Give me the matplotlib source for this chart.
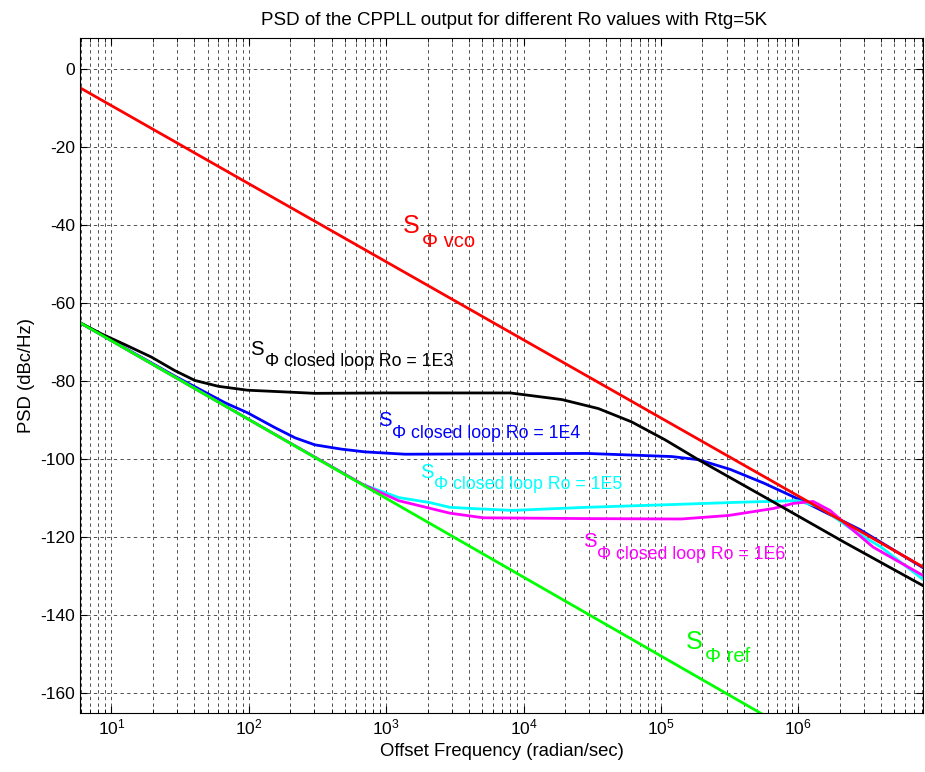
import numpy as np
import matplotlib.pyplot as plt
from matplotlib.ticker import LogLocator, FixedLocator, NullFormatter, LogFormatterSciNotation

plt.rcParams['font.family'] = ['Liberation Sans', 'DejaVu Sans']
plt.rcParams['mathtext.fontset'] = 'custom'
plt.rcParams['mathtext.rm'] = 'Liberation Sans'
plt.rcParams['mathtext.default'] = 'regular'
plt.rcParams['axes.unicode_minus'] = False

# data (frequency in rad/s, PSD in dBc/Hz)
f_vco = [5.9, 8.1e6]
psd_vco = [-4.8, -127.6]

f_ref = [5.9, 1e6]
psd_ref = [-65.0, -170.6]

f_1e3 = [5.9, 8.5, 12.5, 19.5, 29, 40.5, 60, 98, 200, 302, 1e3, 8e3, 1.9e4, 3.5e4,
         6.1e4, 1.07e5, 1.87e5, 7.1e5, 2.17e6, 8.1e6]
psd_1e3 = [-65.0, -67.9, -70.6, -73.8, -77.3, -79.8, -81.3, -82.3, -82.8, -83.1,
           -83.0, -83.0, -84.7, -87.0, -90.4, -95.0, -100.1, -111.6, -121.3, -132.4]

f_1e4 = [5.9, 30, 67, 98, 155, 217, 302, 473, 700, 1370, 2.9e4, 1.2e5, 1.87e5,
         3.2e5, 5.6e5, 1.09e6, 2.8e6, 8.1e6]
psd_1e4 = [-65.0, -79.0, -85.5, -88.1, -91.9, -94.5, -96.3, -97.4, -98.1, -98.7,
           -98.5, -99.3, -100.1, -102.6, -106.1, -110.8, -118.0, -127.8]

f_1e5 = [5.9, 100, 680, 1230, 2080, 2900, 4100, 8300, 2.9e4, 1.2e5, 3.8e5, 9.8e5,
         1.45e6, 2.5e6, 4e6, 8.1e6]
psd_1e5 = [-65.0, -89.8, -106.5, -109.8, -111.1, -112.3, -112.6, -113.1, -112.3,
           -111.6, -111.0, -110.6, -112.3, -118.2, -122.5, -130.8]

f_1e6 = [5.9, 100, 680, 1230, 2900, 5100, 3e4, 1.4e5, 3.1e5, 6.6e5, 9.2e5, 1.28e6,
         1.7e6, 2.2e6, 3.5e6, 8.1e6]
psd_1e6 = [-65.0, -89.8, -106.5, -110.6, -113.8, -115.0, -115.2, -115.3, -114.4,
           -112.6, -111.3, -110.8, -113.1, -116.5, -122.5, -129.8]

xticks = [1e1, 1e2, 1e3, 1e4, 1e5, 1e6]
yticks = [-160, -140, -120, -100, -80, -60, -40, -20, 0]

red = (1, 0, 0)
green = (0, 1, 0)
blue = (0, 0, 1)
cyan = (0, 1, 1)
magenta = (1, 0, 1)

fig = plt.figure(figsize=(9.25, 7.72), dpi=100)
ax = fig.add_axes([0.0865, 0.0765, 0.9115, 0.8745])

lw = 2
ax.semilogx(f_1e4, psd_1e4, color=blue, lw=lw)
ax.semilogx(f_1e5, psd_1e5, color=cyan, lw=lw)
ax.semilogx(f_1e6, psd_1e6, color=magenta, lw=lw)
ax.semilogx(f_1e3, psd_1e3, color='k', lw=lw)
ax.semilogx(f_vco, psd_vco, color=red, lw=lw)
ax.semilogx(f_ref, psd_ref, color=green, lw=lw)

ax.set_xlim(5.9, 8.1e6)
ax.set_ylim(-165, 8)
ax.yaxis.set_major_locator(FixedLocator(yticks))
ax.xaxis.set_major_locator(FixedLocator(xticks))
ax.xaxis.set_major_formatter(LogFormatterSciNotation())
ax.xaxis.set_minor_locator(LogLocator(base=10, subs=np.arange(2, 10), numticks=20))
ax.xaxis.set_minor_formatter(NullFormatter())

grid_style = dict(color='0.2', linestyle=(0, (4, 4)), linewidth=0.6)
ax.grid(True, which='major', axis='both', **grid_style)
ax.grid(True, which='minor', axis='x', **grid_style)
ax.set_axisbelow(True)

ax.tick_params(which='both', direction='in', top=True, right=True, labelsize=12.5)
ax.tick_params(which='major', length=5)
ax.tick_params(which='minor', length=3)
for s in ax.spines.values():
    s.set_linewidth(0.8)

ax.set_title('PSD of the CPPLL output for different Ro values with Rtg=5K',
             fontsize=13.5, pad=9, x=0.515)
ax.set_xlabel('Offset Frequency (radian/sec)', fontsize=13.3, labelpad=4)
ax.set_ylabel('PSD (dBc/Hz)', fontsize=13.3)


def label(f, y, sub, color, big=False):
    if big:
        s_size, sub_size, off = 18, 14.5, (13.5, -10)
    else:
        s_size, sub_size, off = 14.6, 12.8, (10.3, -8.3)
    ax.text(f, y, 'S', color=color, fontsize=s_size, ha='left', va='baseline')
    ax.annotate(sub, xy=(f, y), xycoords='data', xytext=off,
                textcoords='offset points', color=color, fontsize=sub_size,
                ha='left', va='baseline')


label(1325, -42.0, '\u03a6 vco', red, big=True)
label(102.8, -73.2, '\u03a6 closed loop Ro = 1E3', 'k')
label(871, -91.5, '\u03a6 closed loop Ro = 1E4', blue)
label(1763, -104.7, '\u03a6 closed loop Ro = 1E5', cyan)
label(2.71e4, -122.6, '\u03a6 closed loop Ro = 1E6', magenta)
label(1.52e5, -148.5, '\u03a6 ref', green, big=True)

fig.savefig('out.png', dpi=100)
